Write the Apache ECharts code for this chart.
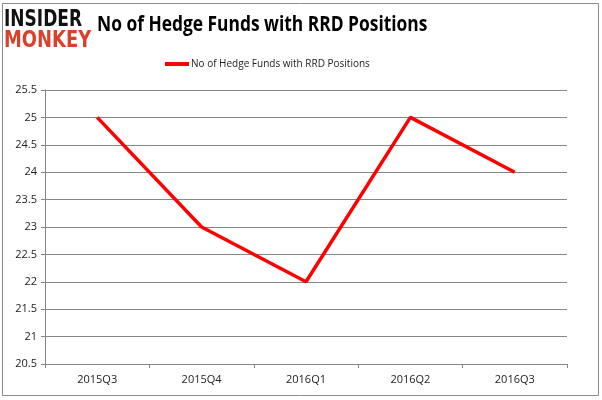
<!DOCTYPE html>
<html><head><meta charset="utf-8">
<script src="https://cdn.jsdelivr.net/npm/echarts@6/dist/echarts.min.js"></script>
<style>html,body{margin:0;padding:0;background:#fff}#c{width:602px;height:400px}</style>
</head><body><div id="c"></div>
<script>
const categories = ["2015Q3","2015Q4","2016Q1","2016Q2","2016Q3"];
const seriesName = "No of Hedge Funds with RRD Positions";
const values = [25, 23, 22, 25, 24];
const titleText = "No of Hedge Funds with RRD Positions";
const chart = echarts.init(document.getElementById('c'));
chart.setOption({
  animation: false,
  backgroundColor: '#fff',
  graphic: [
    {type:'rect', shape:{x:2.5,y:3.5,width:596,height:392}, style:{fill:'none',stroke:'#8c8c8c',lineWidth:1}, z:-1},
    {type:'text', x:4, y:9, scaleX:0.74, style:{text:'INSIDER', font:'900 23px "DejaVu Sans"', fill:'#111'}},
    {type:'text', x:4, y:30, scaleX:0.78, style:{text:'MONKEY', font:'900 23px "DejaVu Sans"', fill:'#d9412b'}},
    {type:'text', x:97, y:14, scaleX:0.79, style:{text:titleText, font:'bold 22px "Open Sans"', fill:'#000'}}
  ],
  legend: {
    top: 54, left: 160,
    itemWidth: 24, itemHeight: 4, itemGap: 4,
    icon: 'rect',
    textStyle: {fontFamily: 'Open Sans', fontSize: 10, color: '#222', padding:[0,0,0,-3]},
    data: [seriesName]
  },
  grid: {left: 45, right: 35, top: 90, bottom: 36, containLabel: false},
  xAxis: {
    type: 'category', data: categories, boundaryGap: true,
    axisLine: {lineStyle: {color: '#868686'}},
    axisTick: {show: true, length: 4, lineStyle:{color:'#868686'}},
    axisLabel: {color: '#222', fontFamily: 'Open Sans', fontSize: 11, margin: 10}
  },
  yAxis: {
    type: 'value', min: 20.5, max: 25.5, interval: 0.5,
    axisLine: {show: true, lineStyle: {color: '#868686'}},
    axisTick: {show: true, length: 4, lineStyle:{color:'#868686'}},
    splitLine: {lineStyle: {color: '#868686'}},
    axisLabel: {color: '#222', fontFamily: 'Open Sans', fontSize: 11, margin: 8}
  },
  series: [{
    name: seriesName, type: 'line', data: values,
    showSymbol: false, symbol: 'none',
    lineStyle: {color: '#ff0000', width: 3.5},
    itemStyle: {color: '#ff0000'}
  }]
});
</script></body></html>
